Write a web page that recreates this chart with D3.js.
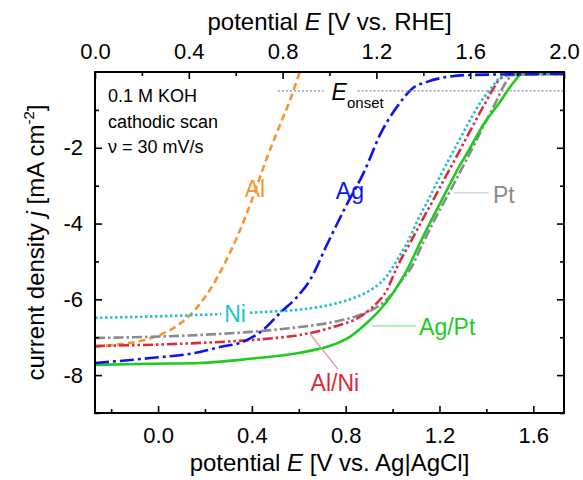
<!DOCTYPE html>
<html><head><meta charset="utf-8">
<script src="https://cdn.jsdelivr.net/npm/d3@7"></script>
<style>
body{margin:0;background:#fff}
svg{display:block;font-family:"Liberation Sans",Arial,sans-serif}
</style>
</head><body>
<svg id="chart" width="583" height="480"></svg>
<script>
// ---------- data (E vs Ag|AgCl in V, j in mA cm^-2) ----------
const alE = [-0.269,-0.184,-0.077,0.008,0.085,0.157,0.221,0.281,0.341,0.400,0.456,0.511,0.563,0.605,0.625];
const alJ = [-7.26,-7.20,-7.10,-6.94,-6.68,-6.28,-5.75,-5.09,-4.30,-3.38,-2.40,-1.53,-0.74,0.0,0.3];

const agE = [-0.269,-0.034,0.179,0.264,0.362,0.447,0.520,0.592,0.648,0.720,0.797,0.882,0.946,1.019,1.087,1.147,1.232,1.317,1.731];
const agJ = [-7.68,-7.55,-7.39,-7.26,-7.12,-6.81,-6.36,-5.94,-5.49,-4.56,-3.59,-2.59,-1.66,-0.92,-0.42,-0.26,-0.13,-0.08,-0.05];

const niE = [-0.269,0.179,0.464,0.605,0.750,0.840,0.900,0.945,0.976,1.002,1.030,1.062,1.108,1.160,1.202,1.245,1.288,1.330,1.373,1.415,1.458,1.501,1.731];
const niJ = [-6.49,-6.41,-6.33,-6.27,-6.12,-5.95,-5.78,-5.58,-5.38,-5.14,-4.85,-4.51,-3.90,-3.28,-2.76,-2.25,-1.76,-1.27,-0.82,-0.47,-0.16,-0.08,-0.05];

const alNiE = [-0.269,0.179,0.464,0.605,0.746,0.861,0.916,0.976,1.019,1.074,1.130,1.181,1.224,1.253,1.296,1.339,1.386,1.424,1.458,1.501,1.731];
const alNiJ = [-7.23,-7.15,-7.04,-6.94,-6.73,-6.46,-6.20,-5.75,-5.15,-4.52,-3.87,-3.29,-2.79,-2.46,-1.96,-1.46,-0.92,-0.50,-0.18,-0.08,-0.05];

const ptE = [-0.269,0.179,0.392,0.605,0.746,0.861,0.946,1.002,1.032,1.074,1.130,1.185,1.241,1.292,1.343,1.394,1.445,1.471,1.501,1.522,1.731];
const ptJ = [-7.02,-6.94,-6.86,-6.73,-6.60,-6.41,-6.15,-5.83,-5.55,-5.22,-4.51,-3.83,-3.19,-2.59,-1.98,-1.35,-0.74,-0.40,-0.13,-0.05,-0.05];

const agPtE = [-0.269,-0.034,0.179,0.392,0.605,0.746,0.818,0.891,0.946,1.002,1.062,1.117,1.172,1.232,1.288,1.317,1.386,1.458,1.514,1.556,1.731];
const agPtJ = [-7.73,-7.70,-7.68,-7.57,-7.41,-7.20,-6.99,-6.62,-6.28,-5.83,-5.22,-4.51,-3.83,-3.11,-2.45,-2.15,-1.40,-0.79,-0.29,-0.03,-0.03];

const seriesNames  = ["Al","Pt","Al/Ni","Ni","Ag/Pt","Ag"];
const seriesColors = ["#f7962f","#8a8a8a","#dc2a3c","#1cc3cc","#1ecb1e","#0a14f0"];

const bottomTicks = [0.0,0.4,0.8,1.2,1.6];
const bottomMinor = [-0.2,0.2,0.6,1.0,1.4];
const topTicks    = [0.0,0.4,0.8,1.2,1.6,2.0];
const topMinor    = [0.2,0.6,1.0,1.4,1.8];
const yTicks      = [-8,-6,-4,-2];
const yMinor      = [-9,-7,-5,-3,-1];

const onsetJ = -0.5;
const onsetStartE = 0.511;
const infoLines = ["0.1 M KOH","cathodic scan","\u03bd = 30 mV/s"];

// ---------- layout ----------
const svg = d3.select("#chart");
const L = 95, R = 564, T = 72, B = 413;
const x = d3.scaleLinear().domain([-0.269, 1.731]).range([L, R]);
const xTop = d3.scaleLinear().domain([0, 2.0]).range([L, R]);
const y = d3.scaleLinear().domain([-9, 0]).range([B, T]);

svg.append("defs").append("clipPath").attr("id","clip")
  .append("rect").attr("x",L).attr("y",T).attr("width",R-L).attr("height",B-T);

// ---------- curves ----------
const mk = (E,J) => E.map((e,i)=>({e, j:J[i]}));
const series = {
  "Al":    {d: mk(alE,alJ),     dash:"7,4"},
  "Pt":    {d: mk(ptE,ptJ),     dash:"10,3,2.5,3"},
  "Al/Ni": {d: mk(alNiE,alNiJ), dash:"10,3,2.5,3,2.5,3"},
  "Ni":    {d: mk(niE,niJ),     dash:"2.5,2.5"},
  "Ag/Pt": {d: mk(agPtE,agPtJ), dash:null},
  "Ag":    {d: mk(agE,agJ),     dash:"14,4,3,4"}
};
const line = d3.line().x(p=>x(p.e)).y(p=>y(p.j)).curve(d3.curveMonotoneX);
const gCurves = svg.append("g").attr("clip-path","url(#clip)");
seriesNames.forEach((n,i)=>{
  gCurves.append("path").datum(series[n].d)
    .attr("d", line).attr("fill","none")
    .attr("stroke", seriesColors[i])
    .attr("stroke-width", 2.6)
    .attr("stroke-dasharray", series[n].dash);
});
const col = n => seriesColors[seriesNames.indexOf(n)];

// ---------- onset line ----------
const onsetLabel = svg.append("text").attr("x", x(0.74)).attr("y", y(-0.75))
  .attr("font-size", 23).attr("fill","#000");
onsetLabel.append("tspan").attr("font-style","italic").text("E");
onsetLabel.append("tspan").attr("font-size",15).attr("dy",8).text("onset");
const eBox = onsetLabel.select("tspan").node().getBBox();
const gapL = eBox.x - 8, gapR = eBox.x + eBox.width + 10;
[[x(onsetStartE), gapL],[gapR, R]].forEach(([a,b])=>{
  svg.insert("line","text").attr("x1",a).attr("x2",b).attr("y1",y(onsetJ)).attr("y2",y(onsetJ))
    .attr("stroke","#8c8c8c").attr("stroke-width",1.3).attr("stroke-dasharray","2,2");
});

// ---------- leader lines & labels ----------
const leaders = [
  {n:"Pt",    e1:1.262, j1:-3.19, e2:1.410, j2:-3.19, c:"#cfcfcf"},
  {n:"Ag/Pt", e1:0.912, j1:-6.70, e2:1.100, j2:-6.70, c:"#8fe08f"},
  {n:"Al/Ni", e1:0.648, j1:-6.91, e2:0.767, j2:-7.84, c:"#e88a92"}
];
leaders.forEach(l=>{
  svg.append("line").attr("x1",x(l.e1)).attr("y1",y(l.j1)).attr("x2",x(l.e2)).attr("y2",y(l.j2))
    .attr("stroke",l.c).attr("stroke-width",1.2);
});
const labels = [
  {n:"Al",    e:0.413, j:-3.30, a:"middle"},
  {n:"Ag",    e:0.818, j:-3.35, a:"middle"},
  {n:"Pt",    e:1.428, j:-3.45, a:"start"},
  {n:"Ni",    e:0.328, j:-6.60, a:"middle", bg:true},
  {n:"Ag/Pt", e:1.113, j:-6.95, a:"start"},
  {n:"Al/Ni", e:0.754, j:-8.42, a:"middle"}
];
labels.forEach(l=>{
  const t = svg.append("text").attr("x",x(l.e)).attr("y",y(l.j))
    .attr("text-anchor",l.a).attr("font-size",23).attr("fill",col(l.n)).text(l.n);
  if (l.bg) {
    const b = t.node().getBBox();
    svg.insert("rect", () => t.node()).attr("x",b.x-3).attr("y",b.y+3).attr("width",b.width+6).attr("height",b.height-6).attr("fill","#fff");
  }
});

// ---------- info text ----------
infoLines.forEach((s,i)=>{
  svg.append("text").attr("x",108).attr("y",102 + i*25.5).attr("font-size",18).attr("fill","#000").text(s);
});

// ---------- axes ----------
const fmt = d3.format(".1f");
const yfmt = d => String(d);
function styleAxis(g){ g.select(".domain").remove(); g.selectAll("line").attr("stroke","#000").attr("stroke-width",1.6); g.selectAll("text").attr("font-size",22).attr("fill","#000").attr("font-family","Liberation Sans, Arial, sans-serif"); }

svg.append("g").attr("transform",`translate(0,${B})`)
  .call(d3.axisBottom(x).tickValues(bottomTicks).tickSize(-7).tickPadding(14).tickFormat(fmt)).call(styleAxis);
svg.append("g").attr("transform",`translate(0,${B})`)
  .call(d3.axisBottom(x).tickValues(bottomMinor).tickSize(-4).tickFormat("")).call(styleAxis);
svg.append("g").attr("transform",`translate(0,${T})`)
  .call(d3.axisTop(xTop).tickValues(topTicks).tickSize(-7).tickPadding(13).tickFormat(fmt)).call(styleAxis);
svg.append("g").attr("transform",`translate(0,${T})`)
  .call(d3.axisTop(xTop).tickValues(topMinor).tickSize(-4).tickFormat("")).call(styleAxis);
svg.append("g").attr("transform",`translate(${L},0)`)
  .call(d3.axisLeft(y).tickValues(yTicks).tickSize(-7).tickPadding(12).tickFormat(yfmt)).call(styleAxis);
svg.append("g").attr("transform",`translate(${L},0)`)
  .call(d3.axisLeft(y).tickValues(yMinor).tickSize(-4).tickFormat("")).call(styleAxis);
svg.append("g").attr("transform",`translate(${R},0)`)
  .call(d3.axisRight(y).tickValues(yTicks).tickSize(-7).tickFormat("")).call(styleAxis);
svg.append("g").attr("transform",`translate(${R},0)`)
  .call(d3.axisRight(y).tickValues(yMinor).tickSize(-4).tickFormat("")).call(styleAxis);

svg.append("rect").attr("x",L).attr("y",T).attr("width",R-L).attr("height",B-T)
  .attr("fill","none").attr("stroke","#000").attr("stroke-width",2);

// ---------- axis titles ----------
const tTop = svg.append("text").attr("x",(L+R)/2).attr("y",30).attr("text-anchor","middle").attr("font-size",24);
tTop.append("tspan").text("potential ");
tTop.append("tspan").attr("font-style","italic").text("E");
tTop.append("tspan").text(" [V vs. RHE]");

const tBot = svg.append("text").attr("x",(L+R)/2).attr("y",471).attr("text-anchor","middle").attr("font-size",24);
tBot.append("tspan").text("potential ");
tBot.append("tspan").attr("font-style","italic").text("E");
tBot.append("tspan").text(" [V vs. Ag|AgCl]");

const tLeft = svg.append("text").attr("transform",`translate(44,${(T+B)/2}) rotate(-90)`)
  .attr("text-anchor","middle").attr("font-size",24);
tLeft.append("tspan").text("current density ");
tLeft.append("tspan").attr("font-style","italic").text("j");
tLeft.append("tspan").text(" [mA cm");
tLeft.append("tspan").attr("font-size",15).attr("dy",-10).text("-2");
tLeft.append("tspan").attr("dy",10).text("]");
</script>
</body></html>
